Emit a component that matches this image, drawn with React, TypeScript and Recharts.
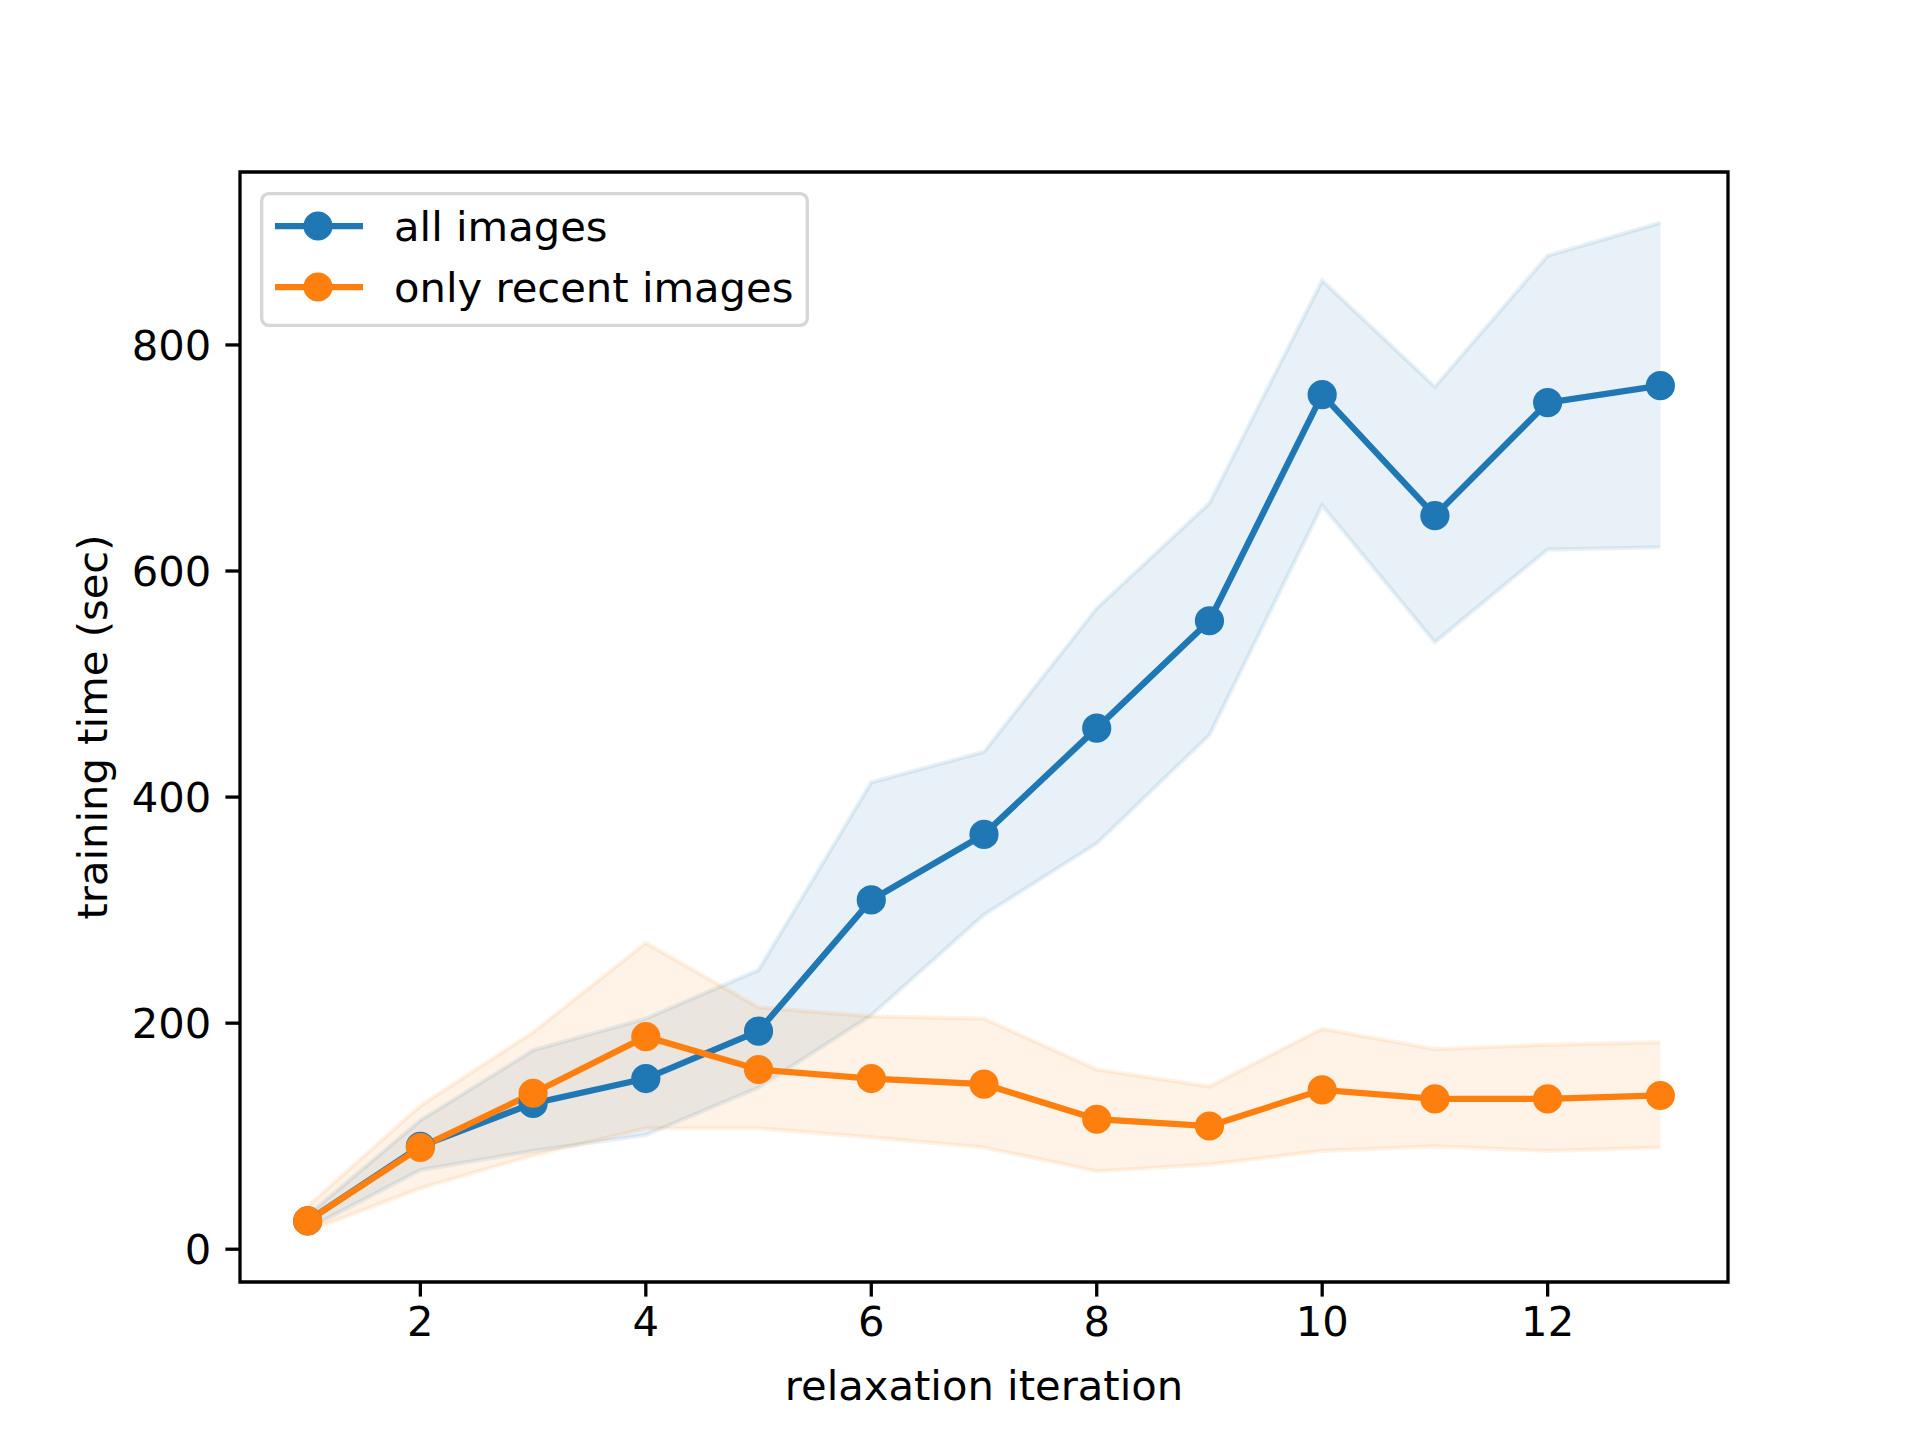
import {
  ComposedChart,
  Line,
  Area,
  XAxis,
  YAxis,
  Label,
  ReferenceArea,
} from "recharts";

const iterations = [1, 2, 3, 4, 5, 6, 7, 8, 9, 10, 11, 12, 13];

const allMean = [25, 91, 129, 151, 193, 309, 367, 461, 556, 756, 649, 749, 764];
const allLow = [18, 70, 87, 101, 143, 207, 296, 359, 455, 658, 537, 619, 621];
const allHigh = [30, 114, 176, 204, 247, 413, 440, 567, 660, 857, 763, 879, 908];

const recentMean = [25, 90, 138, 188, 159, 151, 146, 115, 109, 141, 133, 133, 136];
const recentLow = [16, 54, 83, 107, 107, 99, 90, 69, 75, 87, 91, 87, 90];
const recentHigh = [38, 127, 192, 271, 214, 206, 204, 159, 144, 195, 177, 181, 183];

const xTicks = [2, 4, 6, 8, 10, 12];
const yTicks = [0, 200, 400, 600, 800];
const xDomain = [0.4, 13.6];
const yDomain = [-29, 953];

const BLUE = "#1f77b4";
const ORANGE = "#ff7f0e";
const FONT = "'DejaVu Sans', sans-serif";
const FS = 41.7;
const SPINE = 3.3;

const data = iterations.map((it, i) => ({
  it,
  all: allMean[i],
  allBand: [allLow[i], allHigh[i]],
  recent: recentMean[i],
  recentBand: [recentLow[i], recentHigh[i]],
}));

const legendItems = [
  { name: "all images", color: BLUE },
  { name: "only recent images", color: ORANGE },
];

// legend box drawn over the plot, like matplotlib's upper-left legend
const LegendBox = () => (
  <svg
    width={549}
    height={135}
    style={{ position: "absolute", left: 260, top: 192, display: "block" }}
  >
    <rect
      x={1.7}
      y={1.7}
      width={545.6}
      height={131.6}
      rx={7}
      fill="#fff"
      fillOpacity={0.8}
      stroke="#d6d6d6"
      strokeWidth={3.3}
    />
    {legendItems.map((s, i) => {
      const y = 34 + i * 61;
      return (
        <g key={s.name}>
          <line x1={15} x2={103} y1={y} y2={y} stroke={s.color} strokeWidth={6.25} />
          <circle cx={58} cy={y} r={12.5} fill={s.color} stroke={s.color} strokeWidth={4.2} />
          <text
            x={134}
            y={y}
            dominantBaseline="central"
            fontFamily={FONT}
            fontSize={FS}
            fill="#000"
          >
            {s.name}
          </text>
        </g>
      );
    })}
  </svg>
);

const tickStyle = { fill: "#000", fontSize: FS, fontFamily: FONT };
const tickLine = { stroke: "#000", strokeWidth: SPINE };

export default function App() {
  return (
    <div
      style={{
        position: "absolute",
        left: 0,
        top: 0,
        width: 1920,
        height: 1440,
        fontFamily: FONT,
        background: "#fff",
      }}
    >
      <ComposedChart
        width={1920}
        height={1440}
        data={data}
        margin={{ top: 172, right: 192, bottom: 0, left: 0 }}
      >
        <XAxis
          dataKey="it"
          type="number"
          domain={xDomain}
          ticks={xTicks}
          height={158}
          tick={tickStyle}
          tickLine={tickLine}
          axisLine={false}
          tickSize={14.6}
          tickMargin={10}
        >
          <Label
            content={({ viewBox }: any) => (
              <text
                x={viewBox.x + viewBox.width / 2}
                y={viewBox.y + 103}
                textAnchor="middle"
                dominantBaseline="central"
                fontFamily={FONT}
                fontSize={FS}
                fill="#000"
              >
                relaxation iteration
              </text>
            )}
          />
        </XAxis>
        <YAxis
          type="number"
          domain={yDomain}
          ticks={yTicks}
          width={240}
          tick={tickStyle}
          tickLine={tickLine}
          axisLine={false}
          tickSize={14.6}
          tickMargin={14}
        >
          <Label
            content={({ viewBox }: any) => {
              const cy = viewBox.y + viewBox.height / 2;
              return (
                <text
                  x={92}
                  y={cy}
                  transform={`rotate(-90, 92, ${cy})`}
                  textAnchor="middle"
                  dominantBaseline="central"
                  fontFamily={FONT}
                  fontSize={FS}
                  fill="#000"
                >
                  training time (sec)
                </text>
              );
            }}
          />
        </YAxis>
        <Area
          type="linear"
          dataKey="allBand"
          fill={BLUE}
          fillOpacity={0.1}
          stroke={BLUE}
          strokeOpacity={0.1}
          strokeWidth={4.2}
          legendType="none"
          isAnimationActive={false}
        />
        <Area
          type="linear"
          dataKey="recentBand"
          fill={ORANGE}
          fillOpacity={0.1}
          stroke={ORANGE}
          strokeOpacity={0.1}
          strokeWidth={4.2}
          legendType="none"
          isAnimationActive={false}
        />
        <Line
          type="linear"
          dataKey="all"
          stroke={BLUE}
          strokeWidth={6.25}
          dot={{ r: 12.5, fill: BLUE, stroke: BLUE, strokeWidth: 4.2 }}
          activeDot={false}
          isAnimationActive={false}
        />
        <Line
          type="linear"
          dataKey="recent"
          stroke={ORANGE}
          strokeWidth={6.25}
          dot={{ r: 12.5, fill: ORANGE, stroke: ORANGE, strokeWidth: 4.2 }}
          activeDot={false}
          isAnimationActive={false}
        />
        {/* plot frame (all four spines) */}
        <ReferenceArea
          x1={xDomain[0]}
          x2={xDomain[1]}
          y1={yDomain[0]}
          y2={yDomain[1]}
          fill="none"
          stroke="#000"
          strokeWidth={SPINE}
          ifOverflow="visible"
        />
      </ComposedChart>
      <LegendBox />
    </div>
  );
}
